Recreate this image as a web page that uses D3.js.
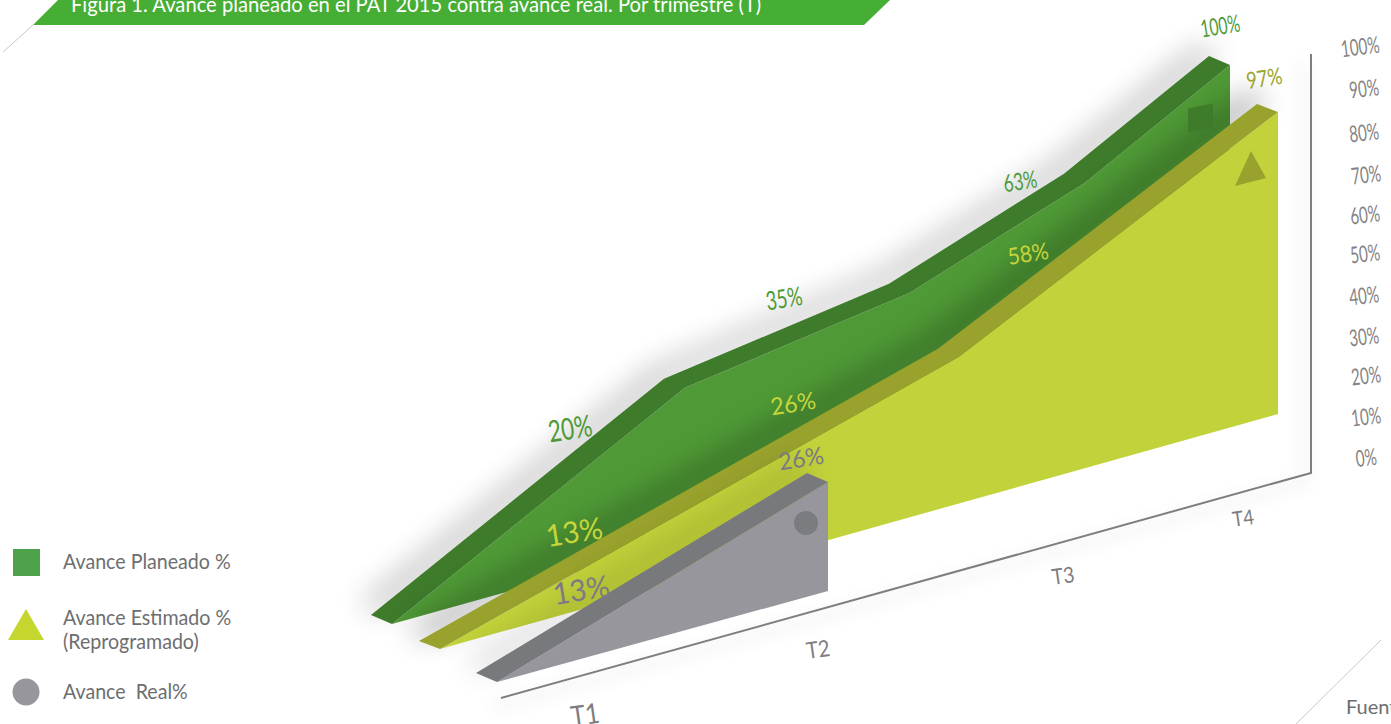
<!DOCTYPE html>
<html><head><meta charset="utf-8">
<script src="https://cdn.jsdelivr.net/npm/d3@7/dist/d3.min.js"></script>
<style>
html,body{margin:0;padding:0;background:#fff;overflow:hidden}
svg{display:block}
text{font-family:Lato,"Open Sans",sans-serif;font-weight:400}
</style></head><body>
<script>
const quarters = ["T1","T2","T3","T4"];
const planned = [20,35,63,100];
const estimated = [13,26,58,97];
const real = [13,26];
const yTicks = [0,10,20,30,40,50,60,70,80,90,100];
const legendLabels = [["Avance Planeado %"],["Avance Estimado %","(Reprogramado)"],["Avance  Real%"]];
const titleText = "Figura 1. Avance planeado en el PAT 2015 contra avance real. Por trimestre (T)";

const W = 1391, H = 724;
const svg = d3.select("body").append("svg").attr("width",W).attr("height",H);
const defs = svg.append("defs");
const blur = (id,sd)=>defs.append("filter").attr("id",id)
  .attr("x","-30%").attr("y","-30%").attr("width","160%").attr("height","160%")
  .append("feGaussianBlur").attr("stdDeviation",sd);
blur("soft",15); blur("softAxis",8);

// oblique projection: one (x, ground, height) scale per series
const series = [
 {name:"planned", values:planned,
  x:d3.scaleLinear().domain([0,1,2,3,4]).range([392,685,910,1085,1230]),
  ground:d3.scaleLinear().domain([392,1230]).range([624,389]),
  h:d3.scaleLinear().domain([0,20,35,63,100]).range([0,154,186,247,324]),
  depth:[-21,-9], face:"#4f9a36", band:"#3e7b2b", shadow:.24},
 {name:"estimated", values:estimated,
  x:d3.scaleLinear().domain([0,1,2,3,4]).range([440,612,786,959,1278]),
  ground:d3.scaleLinear().domain([440,1278]).range([649,414]),
  h:d3.scaleLinear().domain([0,13,26,58,97]).range([0,48.6,97.8,146.7,302]),
  depth:[-21,-8], face:"#c2d23a", band:"#98a22c", shadow:.36},
 {name:"real", values:real,
  x:d3.scaleLinear().domain([0,1,2]).range([497,662,828]),
  ground:d3.scaleLinear().domain([497,828]).range([682,591]),
  h:d3.scaleLinear().domain([0,13,26]).range([0,54.3,109]),
  depth:[-21,-9], face:"#97969c", band:"#78797d", shadow:.16}
];
const line = d3.line().curve(d3.curveLinearClosed);

// axes
const axisPts = [[501,698],[1311,473],[1311,54]];
svg.append("path").attr("d",d3.line()(axisPts)).attr("fill","none").attr("stroke","#000")
  .attr("stroke-opacity",.07).attr("stroke-width",6).attr("filter","url(#softAxis)")
  .attr("transform","translate(-7,9)");
svg.append("path").attr("d",d3.line()(axisPts)).attr("fill","none").attr("stroke","#807d7e").attr("stroke-width",2);

series.forEach(s=>{
  const vals=[0].concat(s.values);
  const top=vals.map((v,i)=>[s.x(i), s.ground(s.x(i))-s.h(v)]);
  const last=top.length-1;
  const face=top.concat([[s.x(last), s.ground(s.x(last))]]);
  const backTop=top.map(p=>[p[0]+s.depth[0],p[1]+s.depth[1]]);
  const band=top.concat(backTop.slice().reverse());
  const g=svg.append("g").attr("class",s.name);
  g.append("path").attr("d",line(band)).attr("fill","#000").attr("opacity",s.shadow)
    .attr("filter","url(#soft)").attr("transform","translate(-11,-11)");
  g.append("path").attr("d",line(face)).attr("fill",s.face);
  g.append("path").attr("d",line(band)).attr("fill",s.band);
});

// markers on the faces
svg.append("path").attr("d",d3.symbol().type(d3.symbolSquare).size(1)())
  .attr("transform","matrix(25,-5,0,24,1200.5,118)").attr("fill","#3e7b2b");
svg.append("path").attr("d",line([[1251,151],[1266,178],[1235,186]])).attr("fill","#98a22c");
svg.append("path").attr("d",d3.symbol().type(d3.symbolCircle).size(Math.PI*144)())
  .attr("transform","translate(806,523)").attr("fill","#7b7c80");

// rotated label helper
function label(t,x,y,size,color,rot=-9,sx=1){
  svg.append("text").attr("transform",`translate(${x},${y}) rotate(${rot}) scale(${sx},1)`)
    .attr("text-anchor","middle").attr("dominant-baseline","central")
    .attr("font-size",size).attr("fill",color).text(t);
}
const vl=(t,x,y,size,c,sx)=>label(t+"%",x,y,size,c,-9,sx);
const gC="#4f9a36", yC="#c6d63a", oC="#9aa52f", rC="#7d7a85";
vl(planned[3],1220,25,24,gC,.65); vl(planned[2],1020,180,24,gC,.72);
vl(planned[1],784,298,26,gC,.72); vl(planned[0],570,428,30,gC,.75);
vl(estimated[3],1264,77,23,oC,.8); vl(estimated[2],1028,253,23,yC,.92);
vl(estimated[1],793,403,24,yC,.97); vl(estimated[0],574,531,30,yC,.97);
vl(real[1],801,458,24,rC,.97); vl(real[0],581,589,30,rC,.97);

// y tick labels
const yTick=d3.scaleLinear().domain(yTicks).range([457,416,375,336,295,253,214,174,132,88,46]);
const yTickX=d3.scaleLinear().domain(yTicks).range([1366,1366,1366,1364,1364,1365,1365,1366,1364,1364,1360]);
yTicks.forEach(v=>label(v+"%",yTickX(v),yTick(v),23,"#858385",-7,.66));

// x tick labels
const xTickX=d3.scalePoint().domain(quarters).range([0,1]);
const tx=d3.scaleLinear().domain([0,1/3,2/3,1]).range([585,818,1063,1243]);
const ty=d3.scaleLinear().domain([0,1/3,2/3,1]).range([714,649,575,517]);
const ts=d3.scaleLinear().domain([0,1/3,1]).range([28,23,21]);
quarters.forEach(q=>label(q,tx(xTickX(q)),ty(xTickX(q)),ts(xTickX(q)),"#7f7d80",-8,.88));

// banner
svg.append("path").attr("d",line([[58,0],[890,0],[864,25],[33,25]])).attr("fill","#46ad35");
svg.append("line").attr("x1",3).attr("y1",52).attr("x2",33).attr("y2",25).attr("stroke","#c8c8c8");
svg.append("text").attr("transform","translate(71,12) scale(.995,1)").attr("font-size",20.3).attr("fill","#fff").text(titleText);

// corner
svg.append("line").attr("x1",1296).attr("y1",724).attr("x2",1381).attr("y2",640).attr("stroke","#c8c8c8");
svg.append("text").attr("x",1346).attr("y",714).attr("font-size",20).attr("fill","#6d6e70").text("Fuente");

// legend
const lg=svg.append("g");
lg.append("path").attr("d",d3.symbol().type(d3.symbolSquare).size(27*27)()).attr("transform","translate(26.5,562.5)").attr("fill","#4ea24b");
lg.append("path").attr("d",line([[26,609],[44,640],[8,640]])).attr("fill","#c5d62f");
lg.append("path").attr("d",d3.symbol().type(d3.symbolCircle).size(Math.PI*13.5*13.5)()).attr("transform","translate(26,692)").attr("fill","#97969c");
const lgY=[[569],[625,649],[699]];
legendLabels.forEach((ls,i)=>ls.forEach((t,j)=>{
  lg.append("text").attr("transform",`translate(63,${lgY[i][j]}) scale(.935,1)`).attr("font-size",21).attr("fill","#6d6e70").style("white-space","pre").text(t);
}));
</script>
</body></html>
